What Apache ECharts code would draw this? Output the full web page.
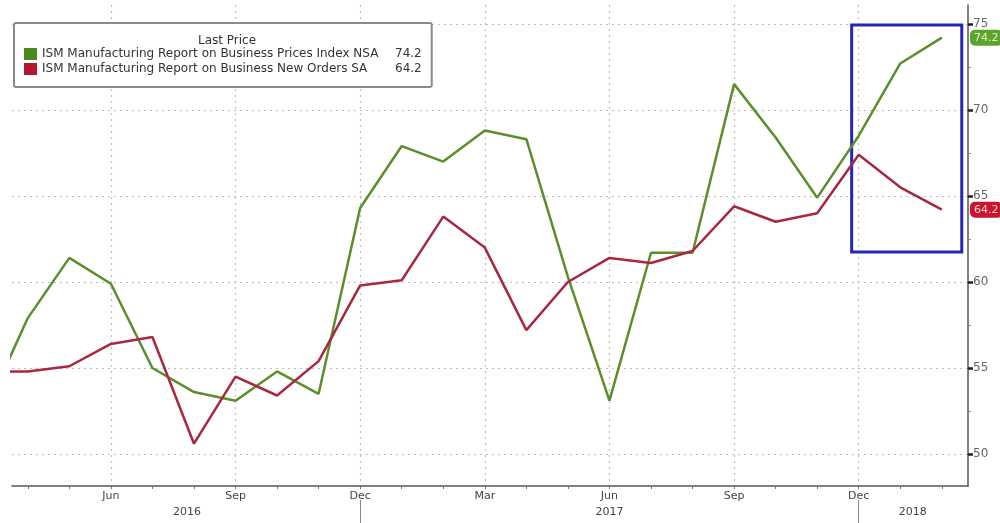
<!DOCTYPE html>
<html>
<head>
<meta charset="utf-8">
<script src="https://cdn.jsdelivr.net/npm/echarts@6/dist/echarts.min.js"></script>
<style>html,body{margin:0;padding:0;background:#fff}#c{width:1000px;height:523px}</style>
</head>
<body>
<div id="c"></div>
<script>
// ---- data ----
const months = ['2016-03','2016-04','2016-05','2016-06','2016-07','2016-08','2016-09','2016-10','2016-11','2016-12',
  '2017-01','2017-02','2017-03','2017-04','2017-05','2017-06','2017-07','2017-08','2017-09','2017-10','2017-11','2017-12',
  '2018-01','2018-02'];
const pricesIndexNSA = [52.6,57.9,61.4,59.9,55.0,53.6,53.1,54.8,53.5,64.3,67.9,67.0,68.8,68.3,60.3,53.1,61.7,61.7,71.5,68.4,64.9,68.5,72.7,74.2];
const newOrdersSA   = [54.8,54.8,55.1,56.4,56.8,50.6,54.5,53.4,55.4,59.8,60.1,63.8,62.0,57.2,60.0,61.4,61.1,61.8,64.4,63.5,64.0,67.4,65.5,64.2];
const seriesNames = ['ISM Manufacturing Report on Business Prices Index NSA','ISM Manufacturing Report on Business New Orders SA'];
const monthNames = ['Jan','Feb','Mar','Apr','May','Jun','Jul','Aug','Sep','Oct','Nov','Dec'];
const quarterLabelMonths = ['2016-06','2016-09','2016-12','2017-03','2017-06','2017-09','2017-12'];
const years = ['2016','2017','2018'];
const yearLabelPos = [6.83, 17.0, 24.3];      // month-index position of year labels
const yearSeparators = ['2016-12','2017-12'];
const yTickLabels = [50,55,60,65,70,75];
const yMinorTicks = [52.5,57.5,62.5,67.5,72.5];
const xRange = [2.62, 25.63];                 // month-index range shown
const yRange = [48.14, 76.1];
const highlightBox = {from: ['2017-12', 61.74], to: ['2018-02', 74.94], padMonths: [-0.17, 0.48]};

// ---- helpers ----
const idx = s => (parseInt(s.slice(0,4)) - 2016) * 12 + parseInt(s.slice(5,7)) - 1;
const monthIdx = months.map(idx);
const green = '#5b8f2c', red = '#a82842';
const font = 'DejaVu Sans';

const chart = echarts.init(document.getElementById('c'), null, {renderer:'canvas'});
const baseX = {type:'value', min:xRange[0], max:xRange[1], gridIndex:0};
const grid = {left:12, right:32, top:5, bottom:37, containLabel:false, outerBoundsMode:'none'};

const option = {
  animation:false,
  backgroundColor:'#fff',
  title:{text:'Last Price', left:193, top:30, z:10,
    textStyle:{fontFamily:font, fontSize:12, fontWeight:'normal', color:'#333'}},
  legend:{
    orient:'vertical', left:14, top:23, z:5,
    padding:[25,10,12,10], itemGap:3,
    backgroundColor:'#fff', borderColor:'#8a8a8a', borderWidth:2, borderRadius:2,
    itemWidth:13, itemHeight:12, icon:'rect',
    data:[{name:seriesNames[0], itemStyle:{color:'#4a8a1e'}},{name:seriesNames[1], itemStyle:{color:'#b5172f'}}],
    formatter: n => {
      const arr = n === seriesNames[0] ? pricesIndexNSA : newOrdersSA;
      return '{n|' + n + '}{v|' + arr[arr.length-1].toFixed(1) + '}';
    },
    textStyle:{fontFamily:font, fontSize:12, color:'#333',
      rich:{n:{width:353, fontFamily:font, fontSize:12, color:'#333'}, v:{fontFamily:font, fontSize:12, color:'#333'}}}
  },
  grid: grid,
  xAxis:[
    Object.assign({}, baseX, {
      position:'bottom',
      axisLine:{show:true, onZero:false, lineStyle:{color:'#555', width:1.5}},
      axisTick:{show:true, length:3, customValues: monthIdx.filter(v=>v>=xRange[0]), lineStyle:{color:'#777'}},
      axisLabel:{customValues: quarterLabelMonths.map(idx), formatter: v => monthNames[Math.round(v)%12],
        fontFamily:font, fontSize:11, color:'#444', margin:5},
      splitLine:{show:false}
    }),
    Object.assign({}, baseX, {
      position:'bottom',
      axisLine:{show:false}, axisLabel:{show:false},
      axisTick:{show:false, customValues: quarterLabelMonths.map(idx)},
      splitLine:{show:true, lineStyle:{color:'#bdbdbd', type:[2,4], width:1.2}}
    }),
    Object.assign({}, baseX, {
      position:'bottom', offset:14,
      axisLine:{show:false},
      axisTick:{show:true, length:24, customValues: yearSeparators.map(idx), lineStyle:{color:'#888'}},
      axisLabel:{customValues: yearLabelPos, formatter: v => years[yearLabelPos.indexOf(v)],
        fontFamily:font, fontSize:11, color:'#444', margin:7},
      splitLine:{show:false}
    })
  ],
  yAxis:[
    {type:'value', position:'right', min:yRange[0], max:yRange[1],
      axisLine:{show:true, lineStyle:{color:'#555', width:1.5}},
      axisTick:{show:true, length:5, customValues: yTickLabels, lineStyle:{color:'#222', width:2.5}},
      axisLabel:{customValues: yTickLabels, fontFamily:font, fontSize:12, color:'#666', margin:5},
      splitLine:{show:true, lineStyle:{color:'#bdbdbd', type:[2,4], width:1.2}}},
    {type:'value', position:'right', min:yRange[0], max:yRange[1],
      axisLine:{show:false}, axisLabel:{show:false}, splitLine:{show:false},
      axisTick:{show:true, length:3, customValues: yMinorTicks, lineStyle:{color:'#888'}}},
    {type:'value', position:'right', min:yRange[0], max:yRange[1],
      axisLine:{show:false}, axisTick:{show:false}, splitLine:{show:false},
      axisLabel:{customValues:[pricesIndexNSA[pricesIndexNSA.length-1]], formatter: v => v.toFixed(1),
        backgroundColor:'#5ca52c', color:'#e8f5d0', padding:[3,4,2,4], borderRadius:5,
        fontFamily:font, fontSize:11, margin:2}},
    {type:'value', position:'right', min:yRange[0], max:yRange[1],
      axisLine:{show:false}, axisTick:{show:false}, splitLine:{show:false},
      axisLabel:{customValues:[newOrdersSA[newOrdersSA.length-1]], formatter: v => v.toFixed(1),
        backgroundColor:'#c8142f', color:'#f6d0d6', padding:[3,4,2,4], borderRadius:5,
        fontFamily:font, fontSize:11, margin:2}}
  ],
  series:[
    {name:seriesNames[0], type:'line', xAxisIndex:0, yAxisIndex:0, showSymbol:false, clip:true,
      lineStyle:{color:green, width:2.5}, itemStyle:{color:green},
      data: monthIdx.map((m,i)=>[m, pricesIndexNSA[i]]),
      markArea:{silent:true, itemStyle:{color:'rgba(0,0,0,0)', borderColor:'#2626b4', borderWidth:3},
        data:[[{xAxis: idx(highlightBox.from[0]) + highlightBox.padMonths[0], yAxis: highlightBox.from[1]},
               {xAxis: idx(highlightBox.to[0]) + highlightBox.padMonths[1], yAxis: highlightBox.to[1]}]]}
    },
    {name:seriesNames[1], type:'line', xAxisIndex:0, yAxisIndex:0, showSymbol:false, clip:true,
      lineStyle:{color:red, width:2.5}, itemStyle:{color:red},
      data: monthIdx.map((m,i)=>[m, newOrdersSA[i]])}
  ]
};
chart.setOption(option);
</script>
</body>
</html>
